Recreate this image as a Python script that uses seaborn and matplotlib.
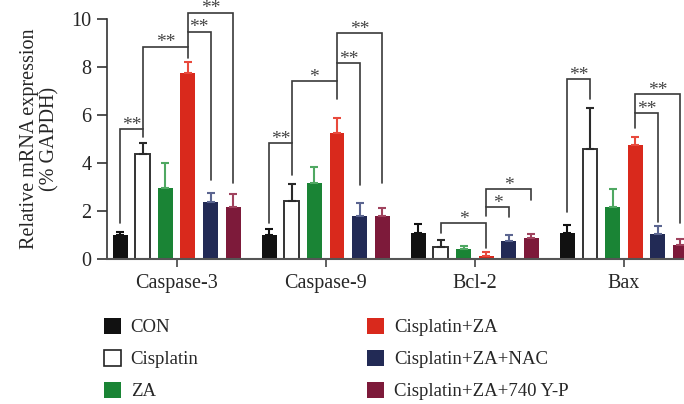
import matplotlib
matplotlib.use("Agg")
import matplotlib.pyplot as plt
from matplotlib.patches import Patch
import numpy as np
import pandas as pd
import seaborn as sns

genes = ["Caspase-3", "Caspase-9", "Bcl-2", "Bax"]
groups = ["CON", "Cisplatin", "ZA", "Cisplatin+ZA", "Cisplatin+ZA+NAC", "Cisplatin+ZA+740 Y-P"]

con = [1.00, 1.00, 1.06, 1.06]
cis = [4.37, 2.40, 0.48, 4.60]
za = [2.95, 3.16, 0.41, 2.16]
cisza = [7.77, 5.25, 0.11, 4.75]
nac = [2.37, 1.78, 0.74, 1.03]
yp = [2.16, 1.78, 0.86, 0.57]

con_err = [0.13, 0.23, 0.39, 0.35]
cis_err = [0.48, 0.72, 0.30, 1.71]
za_err = [1.06, 0.66, 0.13, 0.76]
cisza_err = [0.43, 0.64, 0.16, 0.32]
nac_err = [0.39, 0.55, 0.24, 0.35]
yp_err = [0.54, 0.33, 0.16, 0.27]

yticks = [0, 2, 4, 6, 8, 10]

# significance brackets: gene index, group i1, group i2, left-leg bottom, bar height, right-leg bottom, label
brackets = [
    (0, 0, 1, 1.5, 5.4, 5.1, "**"),
    (0, 1, 3, 5.4, 8.86, 8.4, "**"),
    (0, 3, 4, 8.86, 9.48, 3.29, "**"),
    (0, 3, 5, 9.48, 10.28, 3.15, "**"),
    (1, 0, 1, 1.5, 4.82, 3.5, "**"),
    (1, 1, 3, 4.82, 7.42, 6.68, "*"),
    (1, 3, 4, 7.42, 8.16, 3.08, "**"),
    (1, 3, 5, 8.16, 9.41, 3.18, "**"),
    (2, 1, 3, 1.06, 1.5, 0.43, "*"),
    (2, 3, 4, 1.78, 2.15, 1.73, "*"),
    (2, 3, 5, 2.15, 2.91, 2.45, "*"),
    (3, 0, 1, 1.95, 7.5, 6.68, "**"),
    (3, 3, 4, 5.45, 6.07, 1.55, "**"),
    (3, 3, 5, 6.07, 6.88, 1.5, "**"),
]

means = [con, cis, za, cisza, nac, yp]
errs = [con_err, cis_err, za_err, cisza_err, nac_err, yp_err]
colors = ["#111111", "#ffffff", "#1a8435", "#d9291c", "#222a55", "#7d1a3a"]
ecolors = ["#111111", "#2a2a2a", "#4fa862", "#e8493c", "#5b6590", "#a0435e"]

rows = []
for g, vals in zip(groups, means):
    for gene, v in zip(genes, vals):
        rows.append({"gene": gene, "group": g, "value": v})
df = pd.DataFrame(rows)

sns.set_style("ticks")
plt.rcParams["font.family"] = ["Liberation Serif", "DejaVu Serif"]

fig = plt.figure(figsize=(6.84, 4.04), dpi=100)
ax = fig.add_axes([107 / 684, (404 - 258.7) / 404, (684 - 107) / 684, (258.7 - 19.3) / 404])

sns.barplot(data=df, x="gene", y="value", hue="group", order=genes, hue_order=groups,
            palette=colors, saturation=1, errorbar=None, width=0.91, gap=0.34, linewidth=0,
            legend=False, ax=ax)

bar_containers = list(ax.containers)
centers = []
for gi, cont in enumerate(bar_containers):
    xs = np.array([p.get_x() + p.get_width() / 2 for p in cont.patches])
    centers.append(xs)
    for p in cont.patches:
        if gi == 1:
            p.set_edgecolor("#333333")
            p.set_linewidth(1.4)
        else:
            p.set_edgecolor("none")
            p.set_linewidth(0)
    hs = np.array(means[gi])
    ax.errorbar(xs, hs, yerr=[np.zeros(len(hs)), np.array(errs[gi])], fmt="none",
                ecolor=ecolors[gi], elinewidth=1.5, capsize=3.2, capthick=1.5, zorder=1)

for (g, i1, i2, yb1, h, yb2, lab) in brackets:
    x1 = centers[i1][g]
    x2 = centers[i2][g]
    ax.plot([x1, x1, x2, x2], [yb1, h, h, yb2], color="#3a3a3a", lw=1.2,
            clip_on=False, solid_joinstyle="miter")
    ax.text((x1 + x2) / 2, h - 0.03, lab, ha="center", va="baseline", fontsize=14,
            color="#444444", clip_on=False)

ax.set_xlim(-0.467, 3.403)
ax.set_ylim(0, 10)
ax.set_yticks(yticks)
ax.set_yticklabels([str(t) for t in yticks])
ax.set_xlabel("")
ax.set_ylabel("Relative mRNA expression\n(% GAPDH)", fontsize=14.5, labelpad=9, linespacing=1.05)
ax.tick_params(axis="y", length=7, width=1.2, pad=4, labelsize=14.5, color="#333333")
ax.tick_params(axis="x", length=6, width=1.2, pad=5, labelsize=14.5, color="#444444")
for s in ["top", "right"]:
    ax.spines[s].set_visible(False)
ax.spines["left"].set_color("#333333")
ax.spines["left"].set_linewidth(1.2)
ax.spines["bottom"].set_color("#555555")
ax.spines["bottom"].set_linewidth(1.5)

handles = []
for i, g in enumerate(groups):
    ec = "#222222" if i == 1 else colors[i]
    handles.append(Patch(facecolor=colors[i], edgecolor=ec, linewidth=1.2 if i == 1 else 0))
fig.legend(handles, groups, ncol=2, loc="upper left", bbox_to_anchor=(104 / 684, 1 - 318 / 404),
           frameon=False, fontsize=13.5, handlelength=0.89, handleheight=0.94,
           handletextpad=0.53, columnspacing=9.0, labelspacing=0.72, borderpad=0,
           borderaxespad=0)

fig.savefig("out.png", dpi=100)
